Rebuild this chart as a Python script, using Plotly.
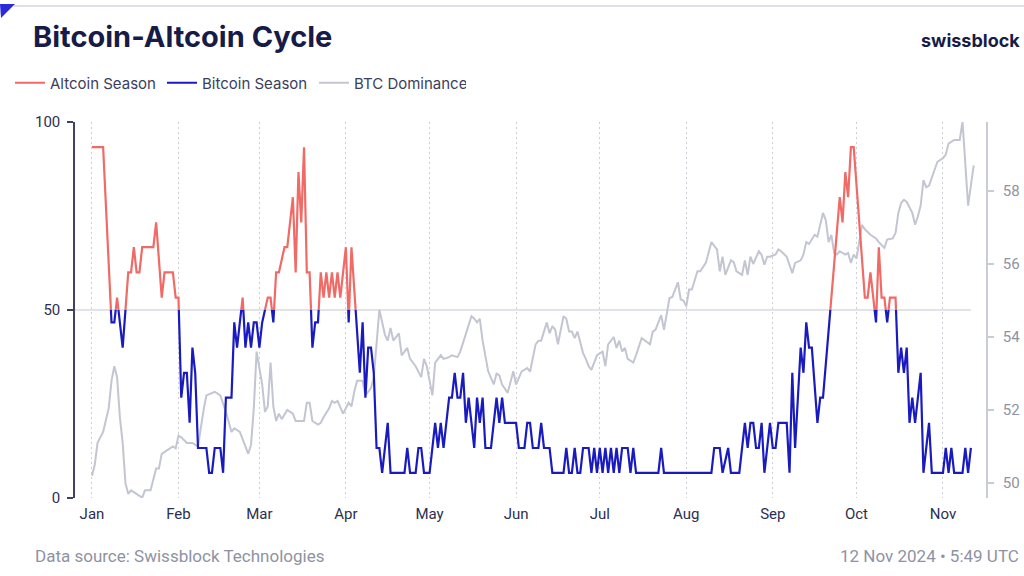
import plotly.graph_objects as go

# ---------------- data ----------------
cycle_dates = [
    "2024-01-01", "2024-01-05", "2024-01-08", "2024-01-09", "2024-01-10", "2024-01-11", "2024-01-12",
    "2024-01-14", "2024-01-15", "2024-01-16", "2024-01-17", "2024-01-18", "2024-01-19", "2024-01-23",
    "2024-01-24", "2024-01-26", "2024-01-27", "2024-01-30", "2024-01-31", "2024-02-01", "2024-02-02",
    "2024-02-03", "2024-02-04", "2024-02-05", "2024-02-06", "2024-02-07", "2024-02-08", "2024-02-11",
    "2024-02-12", "2024-02-13", "2024-02-14", "2024-02-16", "2024-02-17", "2024-02-18", "2024-02-20",
    "2024-02-21", "2024-02-22", "2024-02-23", "2024-02-24", "2024-02-25", "2024-02-26", "2024-02-27",
    "2024-02-28", "2024-02-29", "2024-03-01", "2024-03-02", "2024-03-04", "2024-03-05", "2024-03-06",
    "2024-03-07", "2024-03-08", "2024-03-10", "2024-03-11", "2024-03-13", "2024-03-14", "2024-03-15",
    "2024-03-16", "2024-03-17", "2024-03-18", "2024-03-19", "2024-03-20", "2024-03-21", "2024-03-22",
    "2024-03-23", "2024-03-24", "2024-03-25", "2024-03-26", "2024-03-27", "2024-03-28", "2024-03-29",
    "2024-03-30", "2024-03-31", "2024-04-01", "2024-04-02", "2024-04-03", "2024-04-06", "2024-04-07",
    "2024-04-08", "2024-04-09", "2024-04-10", "2024-04-11", "2024-04-12", "2024-04-13", "2024-04-14",
    "2024-04-16", "2024-04-17", "2024-04-22", "2024-04-23", "2024-04-24", "2024-04-26", "2024-04-27",
    "2024-04-28", "2024-04-29", "2024-05-01", "2024-05-03", "2024-05-04", "2024-05-05", "2024-05-06",
    "2024-05-08", "2024-05-09", "2024-05-10", "2024-05-11", "2024-05-12", "2024-05-13", "2024-05-14",
    "2024-05-15", "2024-05-17", "2024-05-18", "2024-05-19", "2024-05-20", "2024-05-21", "2024-05-23",
    "2024-05-25", "2024-05-26", "2024-05-27", "2024-05-28", "2024-06-01", "2024-06-02", "2024-06-04",
    "2024-06-05", "2024-06-06", "2024-06-07", "2024-06-09", "2024-06-10", "2024-06-11", "2024-06-13",
    "2024-06-14", "2024-06-18", "2024-06-19", "2024-06-20", "2024-06-21", "2024-06-22", "2024-06-23",
    "2024-06-24", "2024-06-25", "2024-06-27", "2024-06-28", "2024-06-29", "2024-06-30", "2024-07-01",
    "2024-07-02", "2024-07-03", "2024-07-04", "2024-07-05", "2024-07-06", "2024-07-07", "2024-07-08",
    "2024-07-09", "2024-07-11", "2024-07-12", "2024-07-13", "2024-07-14", "2024-07-22", "2024-07-23",
    "2024-07-24", "2024-08-10", "2024-08-11", "2024-08-13", "2024-08-14", "2024-08-16", "2024-08-17",
    "2024-08-20", "2024-08-22", "2024-08-23", "2024-08-24", "2024-08-25", "2024-08-26", "2024-08-27",
    "2024-08-28", "2024-08-29", "2024-08-31", "2024-09-01", "2024-09-02", "2024-09-03", "2024-09-06",
    "2024-09-07", "2024-09-08", "2024-09-09", "2024-09-11", "2024-09-12", "2024-09-13", "2024-09-14",
    "2024-09-15", "2024-09-17", "2024-09-18", "2024-09-19", "2024-09-25", "2024-09-26", "2024-09-27",
    "2024-09-28", "2024-09-29", "2024-09-30", "2024-10-04", "2024-10-05", "2024-10-06", "2024-10-07",
    "2024-10-08", "2024-10-09", "2024-10-10", "2024-10-11", "2024-10-12", "2024-10-13", "2024-10-15",
    "2024-10-16", "2024-10-17", "2024-10-18", "2024-10-19", "2024-10-20", "2024-10-21", "2024-10-22",
    "2024-10-24", "2024-10-25", "2024-10-27", "2024-10-28", "2024-11-01", "2024-11-02", "2024-11-03",
    "2024-11-04", "2024-11-05", "2024-11-08", "2024-11-09", "2024-11-10", "2024-11-11",
]
cycle_values = [
    93.3, 93.3, 46.7, 46.7, 53.3, 46.7, 40.0,
    60.0, 60.0, 66.7, 60.0, 60.0, 66.7, 66.7,
    73.3, 53.3, 60.0, 60.0, 53.3, 53.3, 26.7,
    33.3, 33.3, 20.0, 40.0, 33.3, 13.3, 13.3,
    6.7, 6.7, 13.3, 13.3, 6.7, 26.7, 26.7,
    46.7, 40.0, 46.7, 53.3, 40.0, 46.7, 40.0,
    46.7, 46.7, 40.0, 46.7, 53.3, 53.3, 46.7,
    60.0, 60.0, 66.7, 66.7, 80.0, 60.0, 86.7,
    73.3, 93.3, 60.0, 60.0, 40.0, 46.7, 46.7,
    60.0, 53.3, 60.0, 53.3, 60.0, 53.3, 60.0,
    53.3, 60.0, 66.7, 46.7, 66.7, 33.3, 46.7,
    26.7, 40.0, 40.0, 33.3, 13.3, 13.3, 6.7,
    20.0, 6.7, 6.7, 13.3, 6.7, 6.7, 13.3,
    13.3, 6.7, 6.7, 20.0, 13.3, 20.0, 13.3,
    26.7, 26.7, 33.3, 26.7, 26.7, 33.3, 20.0,
    26.7, 13.3, 26.7, 20.0, 26.7, 13.3, 13.3,
    26.7, 20.0, 26.7, 20.0, 20.0, 13.3, 13.3,
    20.0, 20.0, 13.3, 13.3, 20.0, 13.3, 13.3,
    6.7, 6.7, 13.3, 6.7, 6.7, 13.3, 6.7,
    6.7, 13.3, 13.3, 6.7, 13.3, 6.7, 13.3,
    6.7, 13.3, 6.7, 13.3, 6.7, 13.3, 6.7,
    13.3, 13.3, 6.7, 13.3, 6.7, 6.7, 13.3,
    6.7, 6.7, 13.3, 13.3, 6.7, 13.3, 6.7,
    6.7, 20.0, 13.3, 20.0, 20.0, 13.3, 13.3,
    20.0, 6.7, 20.0, 13.3, 13.3, 20.0, 20.0,
    6.7, 33.3, 13.3, 40.0, 33.3, 46.7, 40.0,
    40.0, 20.0, 26.7, 26.7, 80.0, 73.3, 86.7,
    80.0, 93.3, 93.3, 53.3, 53.3, 60.0, 53.3,
    46.7, 66.7, 53.3, 53.3, 46.7, 53.3, 53.3,
    33.3, 40.0, 33.3, 40.0, 20.0, 26.7, 20.0,
    33.3, 6.7, 20.0, 6.7, 6.7, 13.3, 6.7,
    13.3, 6.7, 6.7, 13.3, 6.7, 13.3,
]

dominance_dates = [
    "2024-01-01", "2024-01-02", "2024-01-03", "2024-01-05", "2024-01-07", "2024-01-08", "2024-01-09",
    "2024-01-10", "2024-01-11", "2024-01-12", "2024-01-13", "2024-01-14", "2024-01-15", "2024-01-17",
    "2024-01-18", "2024-01-19", "2024-01-20", "2024-01-22", "2024-01-24", "2024-01-25", "2024-01-26",
    "2024-01-28", "2024-01-30", "2024-01-31", "2024-02-01", "2024-02-02", "2024-02-04", "2024-02-06",
    "2024-02-08", "2024-02-10", "2024-02-11", "2024-02-14", "2024-02-16", "2024-02-18", "2024-02-20",
    "2024-02-21", "2024-02-23", "2024-02-24", "2024-02-26", "2024-02-27", "2024-02-28", "2024-02-29",
    "2024-03-01", "2024-03-02", "2024-03-03", "2024-03-04", "2024-03-05", "2024-03-06", "2024-03-07",
    "2024-03-08", "2024-03-09", "2024-03-11", "2024-03-13", "2024-03-14", "2024-03-17", "2024-03-18",
    "2024-03-19", "2024-03-20", "2024-03-22", "2024-03-23", "2024-03-24", "2024-03-26", "2024-03-27",
    "2024-03-28", "2024-03-29", "2024-03-30", "2024-03-31", "2024-04-02", "2024-04-03", "2024-04-04",
    "2024-04-05", "2024-04-07", "2024-04-08", "2024-04-10", "2024-04-11", "2024-04-13", "2024-04-15",
    "2024-04-16", "2024-04-17", "2024-04-18", "2024-04-20", "2024-04-21", "2024-04-23", "2024-04-24",
    "2024-04-26", "2024-04-28", "2024-04-29", "2024-04-30", "2024-05-02", "2024-05-03", "2024-05-05",
    "2024-05-06", "2024-05-08", "2024-05-09", "2024-05-11", "2024-05-12", "2024-05-14", "2024-05-16",
    "2024-05-17", "2024-05-18", "2024-05-19", "2024-05-20", "2024-05-22", "2024-05-23", "2024-05-24",
    "2024-05-25", "2024-05-26", "2024-05-27", "2024-05-29", "2024-05-31", "2024-06-01", "2024-06-03",
    "2024-06-05", "2024-06-06", "2024-06-08", "2024-06-09", "2024-06-10", "2024-06-12", "2024-06-13",
    "2024-06-14", "2024-06-15", "2024-06-16", "2024-06-18", "2024-06-19", "2024-06-20", "2024-06-21",
    "2024-06-22", "2024-06-23", "2024-06-25", "2024-06-26", "2024-06-27", "2024-06-28", "2024-06-29",
    "2024-06-30", "2024-07-02", "2024-07-03", "2024-07-04", "2024-07-06", "2024-07-07", "2024-07-08",
    "2024-07-09", "2024-07-10", "2024-07-11", "2024-07-13", "2024-07-14", "2024-07-16", "2024-07-19",
    "2024-07-20", "2024-07-21", "2024-07-23", "2024-07-24", "2024-07-26", "2024-07-27", "2024-07-29",
    "2024-07-30", "2024-07-31", "2024-08-01", "2024-08-02", "2024-08-03", "2024-08-05", "2024-08-06",
    "2024-08-08", "2024-08-10", "2024-08-11", "2024-08-12", "2024-08-13", "2024-08-14", "2024-08-15",
    "2024-08-17", "2024-08-18", "2024-08-19", "2024-08-20", "2024-08-21", "2024-08-22", "2024-08-23",
    "2024-08-24", "2024-08-25", "2024-08-27", "2024-08-28", "2024-08-29", "2024-08-30", "2024-08-31",
    "2024-09-02", "2024-09-03", "2024-09-04", "2024-09-06", "2024-09-07", "2024-09-08", "2024-09-09",
    "2024-09-11", "2024-09-12", "2024-09-13", "2024-09-14", "2024-09-16", "2024-09-17", "2024-09-19",
    "2024-09-20", "2024-09-21", "2024-09-22", "2024-09-23", "2024-09-24", "2024-09-25", "2024-09-27",
    "2024-09-28", "2024-09-29", "2024-09-30", "2024-10-01", "2024-10-02", "2024-10-03", "2024-10-04",
    "2024-10-06", "2024-10-08", "2024-10-09", "2024-10-11", "2024-10-12", "2024-10-14", "2024-10-15",
    "2024-10-16", "2024-10-17", "2024-10-18", "2024-10-19", "2024-10-21", "2024-10-22", "2024-10-23",
    "2024-10-24", "2024-10-25", "2024-10-26", "2024-10-27", "2024-10-29", "2024-10-30", "2024-10-31",
    "2024-11-01", "2024-11-02", "2024-11-03", "2024-11-05", "2024-11-07", "2024-11-08", "2024-11-10",
    "2024-11-12",
]
dominance_values = [
    50.2, 50.5, 51.1, 51.4, 52.05, 52.8, 53.2,
    52.9, 51.8, 51.1, 50.0, 49.7, 49.8, 49.7,
    49.65, 49.6, 49.8, 49.8, 50.4, 50.4, 50.8,
    50.9, 51.0, 50.95, 51.3, 51.25, 51.1, 51.1,
    51.0, 52.0, 52.4, 52.5, 52.4, 51.95, 51.4,
    51.5, 51.4, 51.2, 50.8, 51.05, 52.05, 53.6,
    53.2, 52.7, 51.95, 52.1, 53.3, 52.1, 51.7,
    51.9, 51.75, 52.0, 51.9, 51.7, 51.7, 52.2,
    52.2, 51.7, 51.6, 51.65, 51.8, 52.05, 52.25,
    52.2, 52.25, 52.05, 51.9, 52.2, 52.1, 52.5,
    52.8, 52.8, 52.4, 52.6, 52.9, 54.75, 54.06,
    53.9, 54.25, 53.9, 54.1, 53.5, 53.7, 53.4,
    53.2, 52.9, 53.4, 53.2, 52.4, 53.3, 53.5,
    53.4, 53.45, 53.5, 53.45, 53.6, 54.06, 54.57,
    54.5, 54.4, 54.5, 53.9, 53.06, 52.88, 52.7,
    53.0, 52.95, 52.7, 52.47, 53.06, 52.7, 53.06,
    53.15, 53.05, 53.8, 53.9, 53.9, 54.4, 54.1,
    54.3, 54.2, 53.8, 54.57, 54.5, 54.15, 54.15,
    53.97, 54.15, 53.56, 53.4, 53.2, 53.1, 53.3,
    53.5, 53.6, 53.2, 53.8, 54.0, 53.7, 53.9,
    53.6, 53.7, 53.4, 53.3, 53.5, 53.97, 53.8,
    54.15, 54.2, 54.6, 54.2, 55.07, 55.1, 55.5,
    55.03, 55.0, 54.84, 55.3, 55.3, 55.8, 55.8,
    56.03, 56.6, 56.5, 56.4, 55.8, 56.2, 55.7,
    56.1, 56.05, 55.8, 55.75, 55.7, 56.1, 55.7,
    56.2, 56.0, 56.35, 56.25, 55.98, 56.2, 56.2,
    56.26, 56.4, 56.35, 56.2, 55.98, 55.75, 56.03,
    56.1, 56.26, 56.6, 56.55, 56.8, 56.75, 57.4,
    57.2, 56.6, 56.8, 56.3, 56.26, 56.35, 56.26,
    56.3, 56.03, 56.26, 56.15, 56.6, 57.07, 56.95,
    56.8, 56.7, 56.6, 56.44, 56.67, 56.7, 56.85,
    57.4, 57.67, 57.76, 57.7, 57.4, 57.08, 57.3,
    57.6, 58.3, 58.1, 58.15, 58.6, 58.8, 58.85,
    58.9, 59.0, 59.3, 59.4, 59.4, 59.9, 57.6,
    58.7,
]

left_ticks = [0, 50, 100]
right_ticks = [50, 52, 54, 56, 58]
season_threshold = 50
x_range = ["2023-12-25 22:00", "2024-11-16 10:00"]

# ---------------- styling ----------------
RED = "#f06a66"
BLUE = "#1a1bbf"
GREY = "#c3c5d2"
NAVY = "#171b47"
TEXT = "#2c2f52"
MUTED = "#8f92a3"

W, H = 1024, 576
ML, MR, MT, MB = 75, 38, 122, 78
PW, PH = W - ML - MR, H - MT - MB


def px(x):
    return (x - ML) / PW


def py(y):
    return (H - MB - y) / PH


fig = go.Figure()

# Altcoin season: the cycle line drawn on an axis showing only the upper half (50-100)
fig.add_trace(go.Scatter(
    x=cycle_dates, y=cycle_values, mode="lines", name="Altcoin Season",
    line=dict(color=RED, width=2.2), xaxis="x3", yaxis="y3", hoverinfo="skip",
))
# Bitcoin season: the same line on an axis showing only the lower half (0-50)
fig.add_trace(go.Scatter(
    x=cycle_dates, y=cycle_values, mode="lines", name="Bitcoin Season",
    line=dict(color=BLUE, width=2.2), xaxis="x2", yaxis="y2", hoverinfo="skip",
))
fig.add_trace(go.Scatter(
    x=dominance_dates, y=dominance_values, mode="lines", name="BTC Dominance",
    line=dict(color=GREY, width=2), xaxis="x", yaxis="y4",
))

tickfont = dict(family="Roboto", size=15, color=TEXT)

fig.update_layout(
    width=W, height=H,
    margin=dict(l=ML, r=MR, t=MT, b=MB, pad=0, autoexpand=False),
    paper_bgcolor="white", plot_bgcolor="rgba(0,0,0,0)",
    showlegend=True,
    title=dict(text="<b>Bitcoin-Altcoin Cycle</b>", xref="container", yref="container",
               x=33 / W, xanchor="left", y=1 - 37 / H, yanchor="middle",
               font=dict(family="Inter", size=29, color=NAVY)),
    legend=dict(orientation="h", xref="container", yref="container",
                x=10 / W, xanchor="left", y=1 - 83 / H, yanchor="middle",
                font=dict(family="Inter", size=15, color="#3b3e5c"),
                entrywidth=107, entrywidthmode="pixels",
                bgcolor="rgba(0,0,0,0)", traceorder="normal"),
    xaxis=dict(type="date", range=x_range, anchor="y", domain=[0, 1], automargin=False,
               dtick="M1", tick0="2024-01-01", tickformat="%b",
               showgrid=True, griddash="2px,3px", gridcolor="#cdced7", gridwidth=1,
               showline=False, zeroline=False, ticks="", ticklabelstandoff=5,
               tickfont=tickfont),
    xaxis2=dict(type="date", range=x_range, anchor="y2", domain=[0, 1], visible=False,
                showgrid=False, automargin=False),
    xaxis3=dict(type="date", range=x_range, anchor="y3", domain=[0, 1], visible=False,
                showgrid=False, automargin=False),
    yaxis=dict(range=[0, 100], tickvals=left_ticks, anchor="x", domain=[0, 1],
               automargin=False,
               showline=True, linecolor="#3f4262", linewidth=1.5,
               ticks="outside", ticklen=6, tickwidth=1.5, tickcolor="#3f4262",
               showgrid=False, zeroline=False, ticklabelstandoff=4, tickfont=tickfont),
    yaxis2=dict(range=[0, season_threshold], domain=[0, 0.5], anchor="x2", visible=False,
                showgrid=False, automargin=False),
    yaxis3=dict(range=[season_threshold, 100], domain=[0.5, 1], anchor="x3", visible=False,
                showgrid=False, automargin=False),
    yaxis4=dict(range=[49.59, 59.89], tickvals=right_ticks, overlaying="y", side="right",
                anchor="x", automargin=False,
                showline=True, linecolor="#c9cbd5", linewidth=1.5,
                ticks="outside", ticklen=6, tickwidth=1.5, tickcolor="#c9cbd5",
                showgrid=False, zeroline=False, ticklabelstandoff=6,
                tickfont=dict(family="Roboto", size=15, color=MUTED)),
    shapes=[
        dict(type="line", xref="x", yref="y", x0=x_range[0], x1=cycle_dates[-1],
             y0=season_threshold, y1=season_threshold,
             line=dict(color="#d8d9e0", width=1.5), layer="below"),
        dict(type="line", xref="paper", yref="paper", x0=px(14), x1=px(W),
             y0=py(6), y1=py(6), line=dict(color="#dfe0e7", width=2)),
        dict(type="path", xref="paper", yref="paper",
             path=f"M {px(0)},{py(4)} L {px(15)},{py(4)} L {px(1)},{py(18)} Z",
             fillcolor="#2a2ad8", line=dict(width=0)),
    ],
    annotations=[
        dict(text="<b>swissblock</b>", xref="paper", yref="paper", x=px(1022), y=py(40),
             xanchor="right", yanchor="middle", showarrow=False,
             font=dict(family="Inter", size=18, color=NAVY)),
        dict(text="Data source: Swissblock Technologies", xref="paper", yref="paper",
             x=px(33), y=py(556), xanchor="left", yanchor="middle", showarrow=False,
             font=dict(family="Roboto", size=17, color=MUTED)),
        dict(text="12 Nov 2024 • 5:49 UTC", xref="paper", yref="paper",
             x=px(1021), y=py(556), xanchor="right", yanchor="middle", showarrow=False,
             font=dict(family="Roboto", size=17, color=MUTED)),
    ],
)

fig.write_html("out.html")
